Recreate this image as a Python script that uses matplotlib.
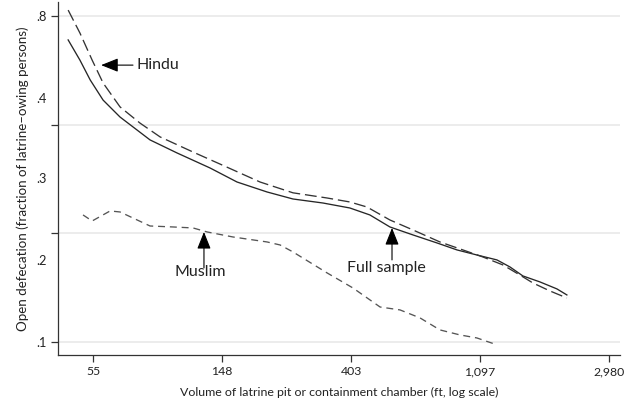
import matplotlib
matplotlib.use("Agg")
import matplotlib.pyplot as plt

plt.rcParams["font.family"] = ["Lato", "DejaVu Sans"]
plt.rcParams["lines.scale_dashes"] = False

# smoothed open defecation rate by latrine pit volume
full_x = [45.0, 49.3, 53.4, 59.0, 67.3, 84.9, 104.7, 135.2, 166.7, 210.4, 257.3,
          324.6, 400, 467, 545.6, 652, 786, 918, 1071, 1251, 1384, 1530, 1746,
          1992, 2152]
full_y = [0.687, 0.604, 0.532, 0.468, 0.420, 0.363, 0.334, 0.3035, 0.2775, 0.2604,
          0.249, 0.2427, 0.2351, 0.2249, 0.2083, 0.198, 0.1881, 0.1799, 0.1742,
          0.1688, 0.1614, 0.1524, 0.1467, 0.1403, 0.135]

hindu_x = [45.0, 49.3, 54.2, 59.0, 67.3, 78.6, 91.8, 118.5, 154.3, 199.3, 257.3,
           335, 400, 456.6, 545.6, 652, 804, 961, 1122, 1310, 1495, 1654, 1886,
           2152]
hindu_y = [0.831, 0.718, 0.604, 0.522, 0.448, 0.404, 0.370, 0.336, 0.305, 0.2775,
           0.259, 0.2506, 0.2443, 0.2366, 0.2178, 0.2044, 0.1893, 0.1799, 0.172,
           0.1635, 0.1533, 0.1457, 0.1385, 0.1324]

muslim_x = [50.5, 54.2, 62.3, 67.3, 84.9, 101.5, 118.5, 132.1, 161.6, 210.4, 232.8,
            257.3, 335, 409.8, 505.4, 590, 689, 804, 939, 1071, 1251]
muslim_y = [0.2249, 0.2164, 0.2307, 0.2292, 0.2096, 0.2083, 0.207, 0.2018, 0.1954,
            0.1893, 0.1857, 0.1776, 0.1554, 0.1411, 0.125, 0.1227, 0.1166, 0.108,
            0.1046, 0.1026, 0.0982]

x_ticks = [54.6, 148.4, 403.4, 1096.6, 2981.0]
x_ticklabels = ["55", "148", "403", "1,097", "2,980"]
y_grid = [0.1, 0.2, 0.4, 0.8]
y_label_pos = [0.1, 0.169, 0.285, 0.475, 0.8]
y_ticklabels = [".1", ".2", ".3", ".4", ".8"]

TXT = "#222222"

fig = plt.figure(figsize=(6.28, 4.03), dpi=100)
ax = fig.add_axes([0.0924, 0.119, 0.8946, 0.876])
ax.set_xscale("log")
ax.set_yscale("log")

ax.plot(full_x, full_y, color="#262626", lw=0.95)
ax.plot(hindu_x, hindu_y, color="#333333", lw=0.95, linestyle=(0, (8.5, 3.5)))
ax.plot(muslim_x, muslim_y, color="#555555", lw=0.95, linestyle=(0, (5, 3.5)))

ax.set_xlim(41.6, 3245)
ax.set_ylim(0.092, 0.875)

# x axis: ticks on the natural-log grid
ax.set_xticks(x_ticks)
ax.set_xticklabels(x_ticklabels)
ax.xaxis.set_minor_locator(matplotlib.ticker.NullLocator())
ax.tick_params(axis="x", length=5, width=0.9, color="#333333", labelsize=8.8,
               pad=3, labelcolor=TXT)

# y axis: gridlines/ticks at log positions, labels spaced evenly
ax.yaxis.remove_overlapping_locs = False
ax.set_yticks(y_grid)
ax.set_yticklabels([""] * len(y_grid))
ax.set_yticks(y_label_pos, minor=True)
ax.set_yticklabels(y_ticklabels, minor=True)
ax.tick_params(axis="y", which="major", length=5, width=0.9, color="#333333")
ax.tick_params(axis="y", which="minor", length=0, labelsize=9.2, pad=8,
               labelcolor=TXT)
ax.grid(axis="y", which="major", color="#ebebeb", lw=1.3)
ax.set_axisbelow(True)

for side in ["top", "right"]:
    ax.spines[side].set_visible(False)
for side in ["left", "bottom"]:
    ax.spines[side].set_color("#333333")
    ax.spines[side].set_linewidth(0.9)

ax.set_xlabel("Volume of latrine pit or containment chamber (ft, log scale)",
              fontsize=8.9, color=TXT, labelpad=7)
ax.set_ylabel("Open defecation (fraction of latrine\u2013owing persons)",
              fontsize=9.6, color=TXT, labelpad=5)

arrow = dict(arrowstyle="-|>,head_length=1.05,head_width=0.42", color="black",
             lw=0.8, shrinkA=0, shrinkB=0, mutation_scale=10)
ax.annotate("", xy=(58.1, 0.585), xytext=(74.4, 0.585), arrowprops=arrow)
ax.text(76.2, 0.585, "Hindu", fontsize=11.5, va="center", ha="left", color=TXT)

ax.annotate("", xy=(554.5, 0.207), xytext=(554.5, 0.1688), arrowprops=arrow)
ax.text(529, 0.160, "Full sample", fontsize=11.5, va="center", ha="center",
        color=TXT)

ax.annotate("", xy=(129, 0.2018), xytext=(129, 0.1604), arrowprops=arrow)
ax.text(125, 0.1563, "Muslim", fontsize=11.5, va="center", ha="center",
        color=TXT)

fig.savefig("out.png", dpi=100)
